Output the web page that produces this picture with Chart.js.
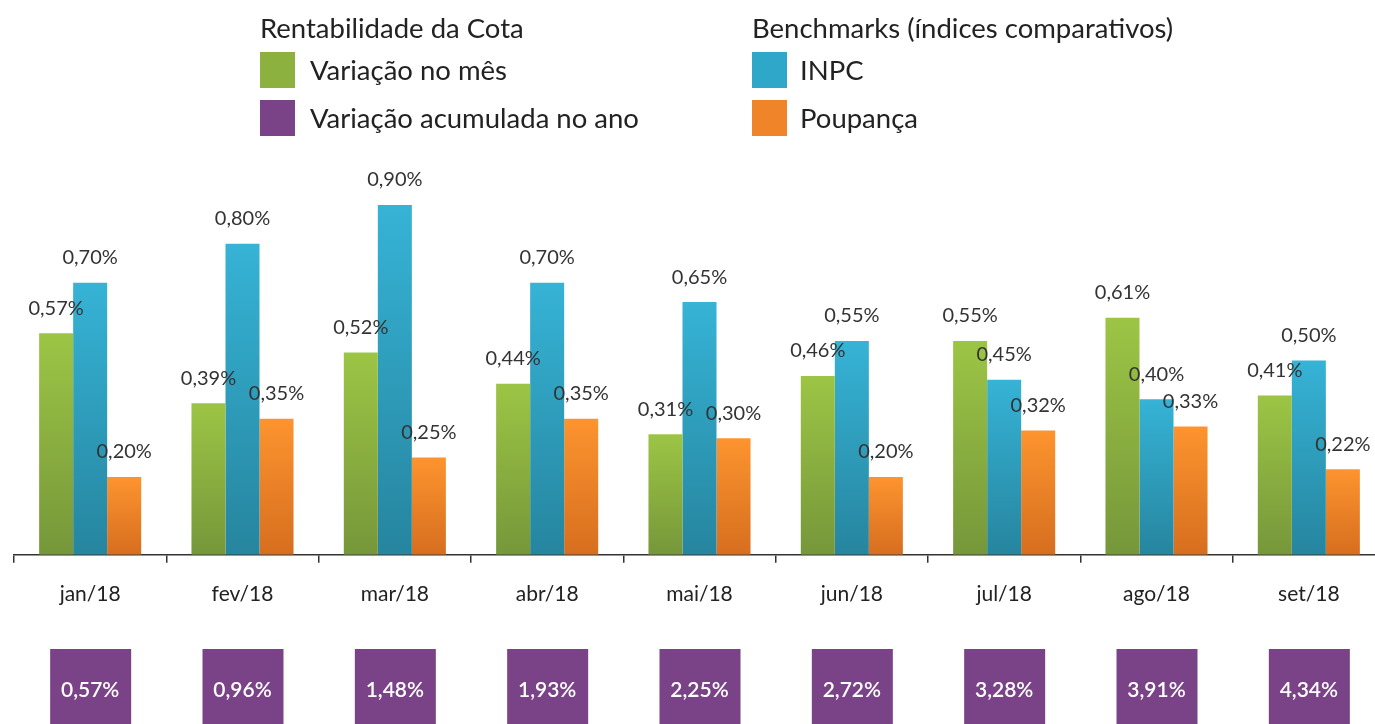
<!DOCTYPE html>
<html>
<head>
<meta charset="utf-8">
<script src="https://cdn.jsdelivr.net/npm/chart.js@4/dist/chart.umd.min.js"></script>
<style>
  html, body { margin: 0; padding: 0; background: #fff; overflow: hidden; }
  #wrap { position: relative; width: 1390px; height: 724px; }
  canvas { position: absolute; left: 0; top: 0; }
  .leg { position: absolute; font-family: Lato, sans-serif; font-size: 27.5px; color: #222; white-space: nowrap; }
  .sq { position: absolute; width: 35px; height: 36px; }
</style>
</head>
<body>
<div id="wrap">
  <canvas id="chart" width="1390" height="724"></canvas>
  <!-- legend, two columns like the original -->
  <div class="leg" style="left:260px; top:11px;">Rentabilidade da Cota</div>
  <div class="sq" style="left:260px; top:52px; background:#8cb13e;"></div>
  <div class="leg" style="left:310px; top:53px;">Variação no mês</div>
  <div class="sq" style="left:260px; top:100px; background:#7a4287;"></div>
  <div class="leg" style="left:310px; top:101px;">Variação acumulada no ano</div>
  <div class="leg" style="left:752px; top:11px;">Benchmarks (índices comparativos)</div>
  <div class="sq" style="left:752px; top:52px; background:#2fa7c9;"></div>
  <div class="leg" style="left:800px; top:53px;">INPC</div>
  <div class="sq" style="left:752px; top:100px; background:#ef8528;"></div>
  <div class="leg" style="left:800px; top:101px;">Poupança</div>
</div>
<script>
// months
let months = ['jan/18', 'fev/18', 'mar/18', 'abr/18', 'mai/18', 'jun/18', 'jul/18', 'ago/18', 'set/18'];

// monthly values in %
let variacaoMes = [0.57, 0.39, 0.52, 0.44, 0.31, 0.46, 0.55, 0.61, 0.41];
let inpc = [0.70, 0.80, 0.90, 0.70, 0.65, 0.55, 0.45, 0.40, 0.50];
let poupanca = [0.20, 0.35, 0.25, 0.35, 0.30, 0.20, 0.32, 0.33, 0.22];

// accumulated in the year (purple boxes under the axis)
let acumulado = [0.57, 0.96, 1.48, 1.93, 2.25, 2.72, 3.28, 3.91, 4.34];

function fmt(v) {
  return v.toFixed(2).replace('.', ',') + '%';
}

// vertical gradient for each bar, from its top down to the axis
function gradient(top, bottom) {
  return function (ctx) {
    let chart = ctx.chart;
    let y = chart.scales.y;
    if (!y || !chart.chartArea || ctx.raw == null) return top;
    let y0 = y.getPixelForValue(ctx.raw);
    let y1 = y.getPixelForValue(0);
    if (!isFinite(y0) || !isFinite(y1)) return top;
    let g = chart.ctx.createLinearGradient(0, y0, 0, y1);
    g.addColorStop(0, top);
    g.addColorStop(1, bottom);
    return g;
  };
}

// value labels above the bars
const valueLabels = {
  id: 'valueLabels',
  afterDatasetsDraw(chart) {
    let ctx = chart.ctx;
    ctx.save();
    ctx.font = '20px Lato, sans-serif';
    ctx.fillStyle = '#333';
    ctx.textAlign = 'center';
    ctx.textBaseline = 'middle';
    chart.data.datasets.forEach((ds, i) => {
      chart.getDatasetMeta(i).data.forEach((bar, j) => {
        ctx.fillText(fmt(ds.data[j]), bar.x, bar.y - 25);
      });
    });
    ctx.restore();
  }
};

// purple boxes with the accumulated return
const accumBoxes = {
  id: 'accumBoxes',
  afterDraw(chart) {
    let ctx = chart.ctx;
    let x = chart.scales.x;
    ctx.save();
    ctx.font = '600 21px Lato, sans-serif';
    ctx.textAlign = 'center';
    ctx.textBaseline = 'middle';
    acumulado.forEach((v, i) => {
      let cx = x.getPixelForValue(i);
      ctx.fillStyle = '#7a4287';
      ctx.fillRect(cx - 40, 649, 81, 80);
      ctx.fillStyle = '#fff';
      ctx.fillText(fmt(v), cx, 690);
    });
    ctx.restore();
  }
};

const data = {
  labels: months,
  datasets: [{
    label: 'Variação no mês',
    data: variacaoMes,
    backgroundColor: gradient('#9cc545', '#76973a')
  }, {
    label: 'INPC',
    data: inpc,
    backgroundColor: gradient('#36b3d6', '#26859f')
  }, {
    label: 'Poupança',
    data: poupanca,
    backgroundColor: gradient('#fd942f', '#d66e1f')
  }]
};

const config = {
  type: 'bar',
  data: data,
  options: {
    responsive: false,
    animation: false,
    layout: {
      padding: { left: 14, right: 5, top: 166, bottom: 98 }
    },
    datasets: {
      bar: {
        categoryPercentage: 0.67,
        barPercentage: 1.0
      }
    },
    plugins: {
      legend: { display: false },
      tooltip: { enabled: false }
    },
    scales: {
      y: {
        display: false,
        min: 0,
        max: 1.0
      },
      x: {
        offset: true,
        border: { display: true, color: '#333', width: 1.5 },
        grid: {
          offset: true,
          drawOnChartArea: false,
          color: '#333',
          lineWidth: 1.5,
          tickLength: 8
        },
        ticks: {
          color: '#222',
          padding: 19,
          font: { family: 'Lato, sans-serif', size: 21 }
        }
      }
    }
  },
  plugins: [valueLabels, accumBoxes]
};

new Chart(document.getElementById('chart'), config);
</script>
</body>
</html>
